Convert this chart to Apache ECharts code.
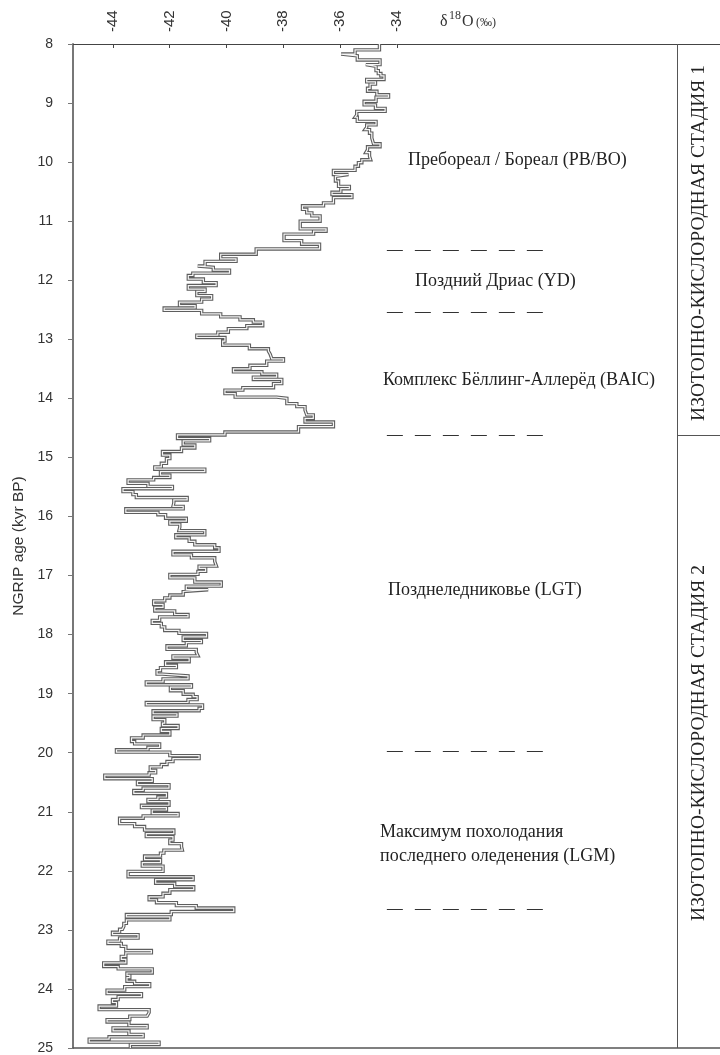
<!DOCTYPE html>
<html><head><meta charset="utf-8">
<script src="https://cdn.jsdelivr.net/npm/echarts@6/dist/echarts.min.js"></script>
<style>html,body{margin:0;padding:0;background:#fff}#c{width:720px;height:1055px}</style>
</head><body><div id="c"></div>
<script>
// Step starts (kyr BP) and δ18O values (‰) for each step
const ageStarts = [
8.00,8.10,8.17,8.20,8.27,8.35,8.38,8.45,8.50,8.54,8.60,8.64,8.68,8.75,8.80,8.86,8.90,8.97,9.03,9.09,
9.14,9.20,9.24,9.31,9.37,9.41,9.45,9.51,9.59,9.69,9.74,9.79,9.84,9.90,9.96,10.01,10.07,10.14,10.21,10.24,
10.32,10.41,10.45,10.51,10.55,10.60,10.69,10.74,10.80,10.86,10.91,11.00,11.13,11.17,11.22,11.33,11.39,11.47,11.56,11.64,
11.68,11.76,11.78,11.83,11.88,11.92,11.98,12.04,12.09,12.15,12.19,12.26,12.32,12.37,12.43,12.47,12.51,12.57,12.62,12.67,
12.71,12.77,12.82,12.88,12.93,12.97,13.03,13.10,13.16,13.20,13.25,13.33,13.37,13.44,13.50,13.55,13.59,13.64,13.68,13.75,
13.82,13.86,13.92,13.98,14.00,14.09,14.14,14.20,14.28,14.34,14.40,14.48,14.57,14.62,14.68,14.72,14.79,14.84,14.90,14.96,
15.02,15.10,15.16,15.20,15.24,15.30,15.34,15.38,15.44,15.49,15.53,15.58,15.63,15.68,15.72,15.77,15.83,15.87,15.93,15.97,
16.03,16.08,16.13,16.18,16.24,16.31,16.36,16.42,16.48,16.53,16.59,16.65,16.70,16.76,16.84,16.88,16.93,16.98,17.04,17.11,
17.18,17.24,17.27,17.33,17.38,17.43,17.49,17.54,17.60,17.66,17.70,17.76,17.81,17.87,17.93,17.98,18.04,18.10,18.135,18.19,
18.25,18.30,18.36,18.40,18.46,18.52,18.56,18.61,18.67,18.70,18.75,18.80,18.85,18.89,18.95,19.01,19.05,19.10,19.15,19.19,
19.25,19.29,19.34,19.38,19.44,19.50,19.54,19.59,19.64,19.70,19.75,19.81,19.85,19.91,19.95,19.99,20.05,20.10,20.15,20.20,
20.24,20.30,20.34,20.38,20.44,20.485,20.54,20.60,20.64,20.69,20.75,20.79,20.83,20.89,20.93,20.97,21.03,21.07,21.11,21.20,
21.25,21.31,21.37,21.42,21.48,21.54,21.59,21.65,21.70,21.75,21.81,21.86,21.92,22.01,22.10,22.15,22.21,22.27,22.32,22.38,
22.44,22.49,22.54,22.59,22.63,22.69,22.74,22.78,22.83,22.89,22.94,22.99,23.04,23.08,23.14,23.19,23.23,23.28,23.35,23.39,
23.45,23.50,23.56,23.62,23.66,23.73,23.77,23.81,23.87,23.91,23.96,24.02,24.08,24.13,24.18,24.23,24.29,24.35,24.40,24.46,
24.52,24.56,24.62,24.66,24.71,24.77,24.81,24.85,24.90,24.94
];
const d18O = [
-34.61,-35.47,-35.96,-35.39,-34.59,-35.09,-34.73,-34.65,-34.56,-34.45,-35.06,-34.75,-34.94,-35.03,-34.70,-34.29,-34.73,-35.15,-34.75,-34.41,
-35.41,-35.47,-35.39,-34.73,-35.06,-35.12,-34.96,-34.88,-34.82,-34.59,-35.03,-35.09,-34.96,-34.92,-35.23,-35.35,-35.47,-36.23,-35.70,-36.16,
-36.05,-35.67,-35.97,-36.28,-35.58,-36.23,-36.58,-37.32,-37.17,-36.99,-36.70,-37.40,-36.49,-36.93,-37.97,-37.35,-36.72,-38.95,-40.20,-39.66,
-40.75,-41.01,-40.46,-39.89,-41.18,-41.34,-40.81,-40.36,-41.34,-40.75,-41.04,-40.52,-40.87,-41.65,-41.10,-42.19,-40.87,-40.20,-39.52,-39.05,
-38.72,-39.28,-39.93,-40.30,-41.04,-40.05,-40.13,-39.19,-38.52,-38.46,-38.40,-37.99,-38.58,-39.17,-39.75,-38.75,-38.23,-39.05,-38.05,-38.34,
-39.42,-40.05,-39.69,-38.23,-37.87,-37.52,-37.23,-37.17,-36.94,-37.23,-36.23,-37.46,-40.05,-41.72,-40.59,-41.52,-41.11,-41.58,-42.25,-41.99,
-42.11,-42.29,-42.52,-40.76,-42.32,-41.99,-42.56,-43.46,-42.76,-41.90,-43.64,-43.29,-43.17,-41.38,-41.85,-41.88,-41.52,-43.54,-42.41,-42.14,
-41.41,-41.99,-41.64,-41.67,-40.76,-41.78,-41.31,-41.11,-40.41,-40.26,-41.88,-41.23,-40.41,-40.35,-40.96,-40.73,-41.00,-41.99,-41.11,-40.18,
-41.41,-40.64,-41.52,-41.99,-42.17,-42.56,-42.23,-42.52,-41.82,-41.35,-42.35,-42.61,-42.29,-42.17,-41.67,-40.70,-41.52,-40.88,-41.41,-42.09,
-41.06,-41.00,-41.88,-41.31,-42.14,-41.76,-42.32,-42.44,-42.25,-41.35,-42.23,-42.82,-41.23,-41.97,-41.52,-41.17,-41.03,-41.35,-42.82,-40.84,
-40.96,-42.58,-41.74,-42.58,-42.17,-42.25,-41.70,-42.29,-41.99,-42.93,-43.34,-43.23,-42.35,-42.76,-43.87,-41.99,-40.96,-41.88,-42.09,-42.29,
-42.68,-42.49,-42.72,-44.28,-42.61,-43.13,-42.02,-42.93,-43.26,-42.11,-42.41,-42.76,-42.02,-42.99,-42.11,-42.61,-41.70,-42.93,-43.76,-43.23,
-42.88,-41.85,-42.82,-41.88,-41.99,-41.58,-41.55,-42.20,-42.32,-42.88,-42.32,-42.96,-42.23,-43.46,-41.17,-42.49,-41.82,-41.15,-41.99,-42.23,
-42.72,-42.46,-41.76,-41.06,-39.74,-41.94,-43.52,-41.99,-43.52,-43.61,-43.66,-43.76,-44.01,-43.11,-43.76,-44.17,-43.70,-43.54,-42.64,-43.54,
-43.70,-43.54,-44.32,-43.81,-42.61,-43.50,-43.40,-43.50,-43.23,-42.70,-43.58,-44.20,-42.99,-43.81,-44.01,-43.87,-44.48,-42.72,-42.79,-43.40,
-44.20,-43.43,-42.79,-43.99,-43.43,-42.93,-44.13,-44.83,-42.37,-43.38
];
const ageEnd = 25;
const xTickValues = [-44, -42, -40, -38, -36, -34];
const zoneBoundaries = [11.5, 12.55, 14.63, 19.97, 22.65];
const stageBoundary = 14.63;
const zoneNames = ['Пребореал / Бореал (PB/BO)', 'Поздний Дриас (YD)', 'Комплекс Бёллинг-Аллерёд (BAIC)', 'Позднеледниковье (LGT)', 'Максимум похолодания', 'последнего оледенения (LGM)'];
const stageNames = ['ИЗОТОПНО-КИСЛОРОДНАЯ СТАДИЯ 1', 'ИЗОТОПНО-КИСЛОРОДНАЯ СТАДИЯ 2'];
const yAxisTitle = 'NGRIP age (kyr BP)';

// build step path
const pts = [];
for (let i = 0; i < ageStarts.length; i++) {
  const end = i + 1 < ageStarts.length ? ageStarts[i + 1] : ageEnd;
  pts.push([d18O[i], ageStarts[i]]);
  pts.push([d18O[i], end]);
}

const X_MIN = -45.4, X_MAX = -22.62, BOX_X = -24.13;
const DASH_X0 = -34.35, DASH_X1 = -28.75;

const chart = echarts.init(document.getElementById('c'), null, {renderer: 'canvas'});
const serif = '"Liberation Serif", "Times New Roman", serif';
const sans = '"Liberation Sans", Arial, sans-serif';

const annotPos = [
  [408, 160], [415, 281], [383, 380], [388, 590], [380, 832], [380, 856]
];
const graphics = zoneNames.map((t, i) => ({
  type: 'text', x: annotPos[i][0], y: annotPos[i][1],
  style: {text: t, font: '18px ' + serif, fill: '#222', textAlign: 'left', textVerticalAlign: 'middle'}
}));
graphics.push({type: 'text', x: 699, y: 243, rotation: Math.PI / 2,
  style: {text: stageNames[0], font: '19.5px ' + serif, fill: '#222', textAlign: 'center', textVerticalAlign: 'middle'}});
graphics.push({type: 'text', x: 699, y: 743, rotation: Math.PI / 2,
  style: {text: stageNames[1], font: '19.5px ' + serif, fill: '#222', textAlign: 'center', textVerticalAlign: 'middle'}});
// δ18O (‰) title
graphics.push({type: 'text', x: 440, y: 22, style: {text: 'δ', font: '16px ' + serif, fill: '#333', textVerticalAlign: 'middle'}});
graphics.push({type: 'text', x: 449, y: 16, style: {text: '18', font: '12px ' + serif, fill: '#333', textVerticalAlign: 'middle'}});
graphics.push({type: 'text', x: 462, y: 22, style: {text: 'O', font: '16px ' + serif, fill: '#333', textVerticalAlign: 'middle'}});
graphics.push({type: 'text', x: 476, y: 23, style: {text: '(‰)', font: '12px ' + serif, fill: '#333', textVerticalAlign: 'middle'}});

const dashLines = zoneBoundaries.map(b => [{coord: [DASH_X0, b]}, {coord: [DASH_X1, b]}]);

chart.setOption({
  animation: false,
  backgroundColor: '#fff',
  grid: {left: 73, top: 44, right: 0, bottom: 3, containLabel: false},
  xAxis: [{
    type: 'value', position: 'top', min: X_MIN, max: X_MAX,
    axisLine: {show: true, lineStyle: {color: '#444', width: 1}},
    axisTick: {show: true, inside: true, length: 4, customValues: xTickValues, lineStyle: {color: '#444'}},
    axisLabel: {show: true, customValues: xTickValues, rotate: -90, margin: 12, fontSize: 15, color: '#333', fontFamily: sans},
    splitLine: {show: false}
  }, {
    type: 'value', position: 'bottom', min: X_MIN, max: X_MAX,
    axisLine: {show: true, lineStyle: {color: '#555', width: 1.5}},
    axisTick: {show: false}, axisLabel: {show: false}, splitLine: {show: false}
  }],
  yAxis: {
    type: 'value', inverse: true, min: 8, max: 25, interval: 1,
    name: yAxisTitle, nameLocation: 'middle', nameGap: 44,
    nameTextStyle: {fontSize: 15.5, color: '#333', fontFamily: sans},
    axisLine: {show: true, lineStyle: {color: '#777', width: 2}},
    axisTick: {show: true, inside: false, length: 5, lineStyle: {color: '#777'}},
    axisLabel: {fontSize: 14, color: '#333', margin: 20, fontFamily: sans},
    splitLine: {show: false}
  },
  series: [{
    type: 'line', xAxisIndex: 0, data: pts, symbol: 'none', silent: true,
    lineStyle: {color: '#5e5e5e', width: 3.4, join: 'miter'},
    markLine: {
      silent: true, symbol: ['none', 'none'], label: {show: false},
      lineStyle: {color: '#555', width: 1, type: 'solid'},
      data: [
        [{coord: [BOX_X, 8]}, {coord: [BOX_X, ageEnd]}],
        [{coord: [BOX_X, stageBoundary]}, {coord: [X_MAX, stageBoundary]}]
      ]
    }
  }, {
    type: 'line', xAxisIndex: 0, data: pts, symbol: 'none', silent: true,
    lineStyle: {color: '#f6f6f6', width: 1.2, join: 'miter'},
    markLine: {
      silent: true, symbol: ['none', 'none'], label: {show: false},
      lineStyle: {color: '#333', width: 1.2, type: [16, 12]},
      data: dashLines
    }
  }],
  graphic: graphics
});
</script></body></html>
